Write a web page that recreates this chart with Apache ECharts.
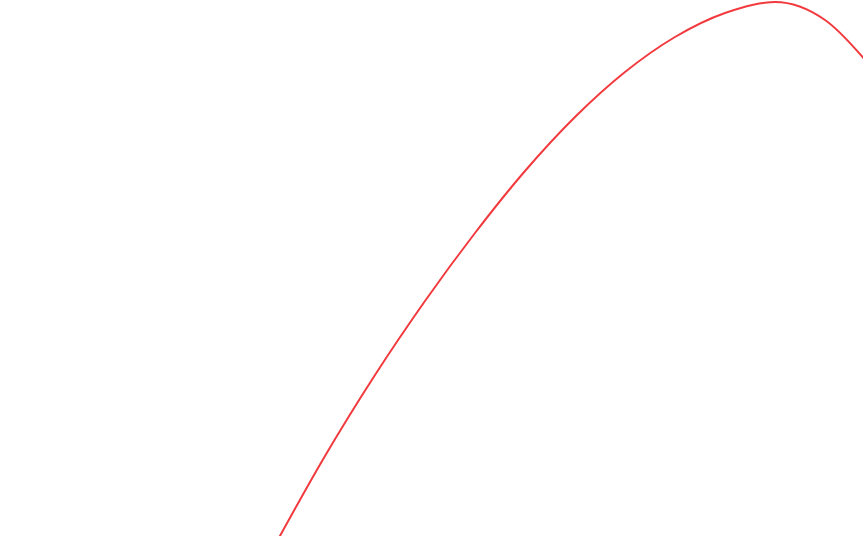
<!DOCTYPE html>
<html>
<head>
<meta charset="utf-8">
<script src="https://cdn.jsdelivr.net/npm/echarts@6/dist/echarts.min.js"></script>
<style>
html,body{margin:0;padding:0;background:#fff;}
#main{width:863px;height:536px;}
</style>
</head>
<body>
<div id="main"></div>
<script>
// Data (domain units, evenly spaced in x)
var xValues = [27.5, 32.5, 37.5, 42.5, 47.5, 52.5, 57.5, 62.5, 67.5, 72.5, 77.5, 82.5, 87.5];
var yValues = [-0.9, 8.0, 16.1, 23.5, 30.3, 36.5, 41.9, 46.4, 49.9, 52.3, 53.4, 51.6, 46.4];
var xRange = [0, 86.3];
var yRange = [0, 53.6];

var seriesData = xValues.map(function (x, i) { return [x, yValues[i]]; });

var chart = echarts.init(document.getElementById('main'), null, { renderer: 'canvas' });
chart.setOption({
  animation: false,
  backgroundColor: '#ffffff',
  grid: { left: 0, right: 0, top: 0, bottom: 0, containLabel: false },
  xAxis: { type: 'value', min: xRange[0], max: xRange[1], show: false },
  yAxis: { type: 'value', min: yRange[0], max: yRange[1], show: false },
  series: [{
    type: 'line',
    data: seriesData,
    smooth: 0.34,
    showSymbol: false,
    clip: true,
    lineStyle: { color: '#f23a3e', width: 2 }
  }]
});
</script>
</body>
</html>
